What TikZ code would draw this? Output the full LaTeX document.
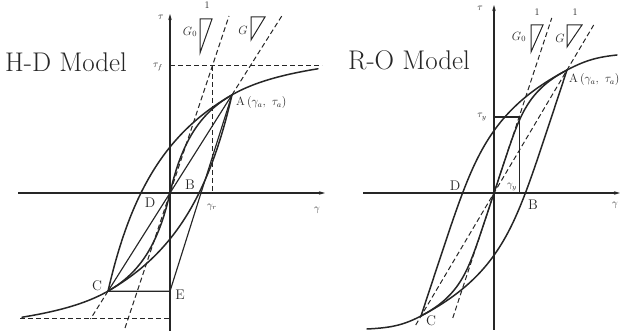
\documentclass[tikz,border=0pt]{standalone}
\usetikzlibrary{arrows.meta}
\definecolor{ink}{HTML}{262626}
\tikzset{
  curve/.style={ink, line width=1.5pt, line cap=round},
  thinline/.style={ink, line width=1.15pt},
  axisline/.style={ink, line width=1.1pt, -{Stealth[length=6pt,width=3.5pt]}},
  dashline/.style={ink, line width=1pt, dash pattern=on 5pt off 3pt},
  tri/.style={ink, line width=1pt, line join=miter},
  lbl/.style={ink, font=\fontsize{14}{14}\selectfont, inner sep=0pt},
  small/.style={ink, font=\fontsize{10}{10}\selectfont, inner sep=0pt},
  mid/.style={ink, font=\fontsize{12}{12}\selectfont, inner sep=0pt},
  titletext/.style={ink, font=\fontsize{27}{27}\selectfont, inner sep=0pt, anchor=base west},
}
\begin{document}
\begin{tikzpicture}[x=1pt,y=1pt,
  declare function={hd(\u)=4.38*\u/(1+0.0285*abs(\u));
                    ro(\v)=0.33*\v*(1+0.0769*abs(\v/77)^5);}]
\useasboundingbox (0,0) rectangle (627,331);

\node[titletext] (hdtitle) at (5,259) {H-D Model};
\node[titletext] (rotitle) at (348,261) {R-O Model};

% ---------------- H-D model ----------------
\begin{scope}[shift={(170,138)}]
  \coordinate (O1) at (0,0);
  \coordinate (A1) at (62,98.2);
  \coordinate (C1) at (-62,-98.2);
  \coordinate (E1) at (0,-98.2);
  \coordinate (ytop1) at (0,179);
  \coordinate (ybot1) at (0,-138);
  \coordinate (xl1) at (-152,0);
  \coordinate (xr1) at (155,0);
  \draw[axisline] (ybot1) -- (ytop1);
  \draw[axisline] (xl1) -- (xr1);
  % dashed guides
  \coordinate (tf1) at (0,127);
  \coordinate (tfr1) at (152,127);
  \coordinate (gr1) at (42.3,127);
  \coordinate (grx1) at (42.3,0);
  \draw[dashline] (tf1) -- (tfr1);
  \draw[dashline] (gr1) -- (grx1);
  \coordinate (btl1) at (-150,-126);
  \coordinate (btr1) at (0,-126);
  \draw[dashline] (btl1) -- (btr1);
  \coordinate (g0a1) at (-45,-135);
  \coordinate (g0b1) at (59,177);
  \draw[dashline] (g0a1) -- (g0b1);
  \coordinate (ga1) at (112.4,178);
  \coordinate (gb1) at (-79.5,-126);
  \draw[dashline] (A1) -- (ga1);
  \draw[dashline] (C1) -- (gb1);
  % backbone and loops
  \draw[curve] plot[domain=-148:148, samples=120, variable=\t] ({\t},{hd(\t)});
  \draw[curve] plot[domain=-62:62, samples=80, variable=\t] ({\t},{-98.2+2*hd((\t+62)/2)});
  \draw[curve] plot[domain=-62:62, samples=80, variable=\t] ({\t},{98.2+2*hd((\t-62)/2)});
  \draw[thinline] (C1) -- (A1);
  \draw[thinline] (C1) -- (E1) -- (A1);
  % stiffness triangles
  \draw[tri] (30,174) -- (42,174) -- (30,140) -- cycle;
  \draw[tri] (81,176) -- (95,176) -- (81,153) -- cycle;
  \node[mid] (g0l1) at (20,161) {$G_0$};
  \node[mid] (gl1) at (73,163) {$G$};
  \node[small] (one1) at (37,188) {1};
  % labels
  \node[small] (tau1) at (-9,176) {$\tau$};
  \node[small] (tauf1) at (-12,126) {$\tau_f$};
  \node[small] (gam1) at (147,-17) {$\gamma$};
  \node[small] (gamr1) at (42,-14) {$\gamma_r$};
  \node[mid, anchor=west] (Al1) at (66,90) {A\,($\gamma_a$,\, $\tau_a$)};
  \node[lbl] (Bl1) at (20,8) {B};
  \node[lbl] (Cl1) at (-73,-93) {C};
  \node[lbl] (Dl1) at (-20,-10) {D};
  \node[lbl] (El1) at (10,-102) {E};
\end{scope}

% ---------------- R-O model ----------------
\begin{scope}[shift={(494,138)}]
  \coordinate (O2) at (0,0);
  \coordinate (A2) at (73,123);
  \coordinate (C2) at (-73,-123);
  \coordinate (ytop2) at (0,188);
  \coordinate (ybot2) at (0,-137);
  \coordinate (xl2) at (-131,0);
  \coordinate (xr2) at (126,0);
  \draw[axisline] (ybot2) -- (ytop2);
  \draw[axisline] (xl2) -- (xr2);
  % dashed lines
  \coordinate (g0a2) at (-41.25,-125);
  \coordinate (g0b2) at (57.75,175);
  \draw[dashline] (g0a2) -- (g0b2);
  \coordinate (ga2) at (-78.3,-132);
  \coordinate (gb2) at (99.7,168);
  \draw[dashline] (ga2) -- (gb2);
  % backbone
  \coordinate (bbl2) at (-127,-136);
  \coordinate (bbr2) at (123,138);
  \draw[curve] plot[domain=-123:123, samples=120, variable=\t] ({ro(\t)},{\t});
  \draw[curve] (A2) to[out=27.6,in=186] (bbr2);
  \draw[curve] (C2) to[out=207.6,in=3] (bbl2);
  % loops
  \draw[curve] plot[domain=-123:123, samples=100, variable=\t] ({-73+2*ro((\t+123)/2)},{\t});
  \draw[curve] plot[domain=-123:123, samples=100, variable=\t] ({73+2*ro((\t-123)/2)},{\t});
  % yield rectangle
  \coordinate (ty2) at (0,76);
  \coordinate (ycorner2) at (25.5,76);
  \coordinate (gy2) at (25.5,0);
  \draw[thinline] (ty2) -- (ycorner2) -- (gy2);
  % stiffness triangles
  \draw[tri] (37,168) -- (49,168) -- (37,141) -- cycle;
  \draw[tri] (73,168) -- (88,168) -- (73,146) -- cycle;
  \node[mid] (g0l2) at (25,156) {$G_0$};
  \node[mid] (gl2) at (66,155) {$G$};
  \node[small] (one2) at (43,181) {1};
  \node[small] (one3) at (81,181) {1};
  % labels
  \node[small] (tau2) at (-14,185) {$\tau$};
  \node[small] (tauy2) at (-12,76) {$\tau_y$};
  \node[small] (gamy2) at (18,6) {$\gamma_y$};
  \node[small] (gam2) at (121,-12) {$\gamma$};
  \node[mid, anchor=west] (Al2) at (75,113) {A\,($\gamma_a$,\, $\tau_a$)};
  \node[lbl] (Dl2) at (-39,7) {D};
  \node[lbl] (Bl2) at (39,-12) {B};
  \node[lbl] (Cl2) at (-63,-128) {C};
\end{scope}
\end{tikzpicture}
\end{document}
